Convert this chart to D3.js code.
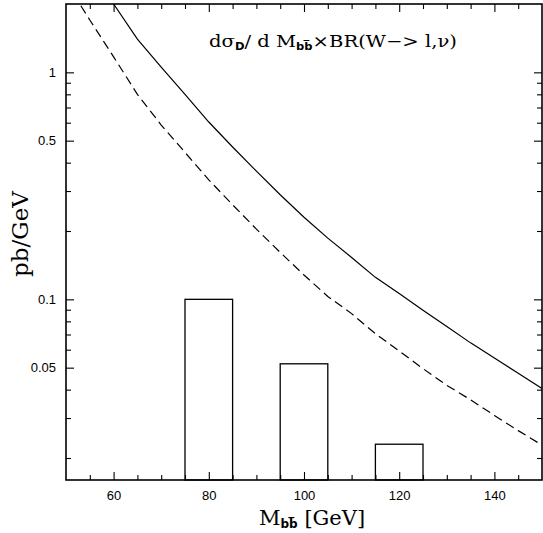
<!DOCTYPE html>
<html><head><meta charset="utf-8">
<script src="https://cdn.jsdelivr.net/npm/d3@7"></script>
<style>body{margin:0;background:#fff}</style>
</head><body><svg id="c" width="543" height="533"></svg>
<script>
// Solid curve (full)
const massGeV = [60,65,70,75,80,85,90,95,100,105,110,115,120,125,130,135,140,145,150];
const solidValues = [2.0,1.40,1.055,0.80,0.604,0.469,0.367,0.289,0.230,0.186,0.153,0.125,0.106,0.0895,0.0760,0.0643,0.0552,0.0472,0.0405];
// Dashed curve
const dashedMass = [50,55,60,65,70,75,80,85,90,95,100,105,110,115,120,125,130,135,140,145,150];
const dashedValues = [2.5,1.70,1.17,0.80,0.586,0.444,0.336,0.261,0.204,0.161,0.128,0.103,0.0865,0.0706,0.0592,0.0495,0.0418,0.0361,0.0308,0.0264,0.0228];
// Histogram bins
const binLow = [75,95,115];
const binHigh = [85,105,125];
const binValues = [0.1,0.052,0.023];
// Ticks
const xMajorTicks = [60,80,100,120,140];
const xMinorTicks = [55,65,70,75,85,90,95,105,110,115,125,130,135,145];
const yMajorTicks = [1,0.5,0.1,0.05];
const yMinorTicks = [0.9,0.8,0.7,0.6,0.4,0.3,0.2,0.09,0.08,0.07,0.06,0.04,0.03,0.02];

const L=66,R=542,T=4,B=480;
const svg=d3.select('#c');
const x=d3.scaleLinear().domain([50,150]).range([L,R]);
const y=d3.scaleLog().domain([0.016,2]).range([B,T]);

svg.append('defs').append('clipPath').attr('id','clip')
  .append('rect').attr('x',L).attr('y',T).attr('width',R-L).attr('height',B-T);

function styleAxis(g){
  g.select('.domain').remove();
  g.selectAll('line').attr('stroke','#000').attr('stroke-width',1.1);
  g.selectAll('text').attr('fill','#000')
    .style('font-family','"Liberation Sans", Arial, sans-serif').style('font-size','13px');
}
const fmt=d3.format('~g');
// left
svg.append('g').attr('transform',`translate(${L},0)`)
  .call(d3.axisLeft(y).tickValues(yMajorTicks).tickSize(-8).tickPadding(10).tickFormat(fmt)).call(styleAxis);
svg.append('g').attr('transform',`translate(${L},0)`)
  .call(d3.axisLeft(y).tickValues(yMinorTicks).tickSize(-5).tickFormat('')).call(styleAxis);
// right
svg.append('g').attr('transform',`translate(${R},0)`)
  .call(d3.axisRight(y).tickValues(yMajorTicks).tickSize(-8).tickFormat('')).call(styleAxis);
svg.append('g').attr('transform',`translate(${R},0)`)
  .call(d3.axisRight(y).tickValues(yMinorTicks).tickSize(-5).tickFormat('')).call(styleAxis);
// bottom
svg.append('g').attr('transform',`translate(0,${B})`)
  .call(d3.axisBottom(x).tickValues(xMajorTicks).tickSize(-8).tickPadding(11)).call(styleAxis);
svg.append('g').attr('transform',`translate(0,${B})`)
  .call(d3.axisBottom(x).tickValues(xMinorTicks).tickSize(-5).tickFormat('')).call(styleAxis);
// top
svg.append('g').attr('transform',`translate(0,${T})`)
  .call(d3.axisTop(x).tickValues(xMajorTicks).tickSize(-8).tickFormat('')).call(styleAxis);
svg.append('g').attr('transform',`translate(0,${T})`)
  .call(d3.axisTop(x).tickValues(xMinorTicks).tickSize(-5).tickFormat('')).call(styleAxis);

// bars
svg.append('g').selectAll('rect').data(binValues).join('rect')
  .attr('x',(d,i)=>x(binLow[i])).attr('y',d=>y(d))
  .attr('width',(d,i)=>x(binHigh[i])-x(binLow[i])).attr('height',d=>B-y(d))
  .attr('fill','none').attr('stroke','#000').attr('stroke-width',1.3);

// curves
const line=d3.line().x(d=>x(d[0])).y(d=>y(d[1]));
const cg=svg.append('g').attr('clip-path','url(#clip)');
cg.append('path').datum(massGeV.map((m,i)=>[m,solidValues[i]])).attr('d',line)
  .attr('fill','none').attr('stroke','#000').attr('stroke-width',1.2);
cg.append('path').datum(dashedMass.map((m,i)=>[m,dashedValues[i]])).attr('d',line)
  .attr('fill','none').attr('stroke','#000').attr('stroke-width',1.2).attr('stroke-dasharray','9,5');

// frame
svg.append('rect').attr('x',L).attr('y',T).attr('width',R-L).attr('height',B-T)
  .attr('fill','none').attr('stroke','#000').attr('stroke-width',1.6);

const serif='"DejaVu Serif", "Liberation Serif", serif';
const subf='"DejaVu Sans", sans-serif';
// title
const t=svg.append('text').attr('x',209).attr('y',47).style('font-family',serif).style('font-size','17px')
  .attr('fill','#000').attr('textLength',248).attr('lengthAdjust','spacingAndGlyphs');
t.append('tspan').text('dσ');
t.append('tspan').attr('dy',3).style('font-family',subf).style('font-weight','bold').style('font-size','10px').text('D');
t.append('tspan').attr('dy',-3).text('/ d M');
t.append('tspan').attr('dy',3).style('font-family',subf).style('font-weight','bold').style('font-size','10px').text('bb\u0305');
t.append('tspan').attr('dy',-3).text('×BR(W−> l,ν)');

// x title
const xt=svg.append('text').attr('x',259).attr('y',525).style('font-family',serif).style('font-size','21px').attr('fill','#000');
xt.append('tspan').text('M');
xt.append('tspan').attr('dy',3).style('font-family',subf).style('font-weight','bold').style('font-size','12px').text('bb\u0305');
xt.append('tspan').attr('dy',-3).text(' [GeV]');

// y title
svg.append('text').attr('transform','translate(28,234) rotate(-90)').attr('text-anchor','middle')
  .style('font-family',serif).style('font-size','23px').attr('fill','#000').text('pb/GeV');
</script></body></html>
